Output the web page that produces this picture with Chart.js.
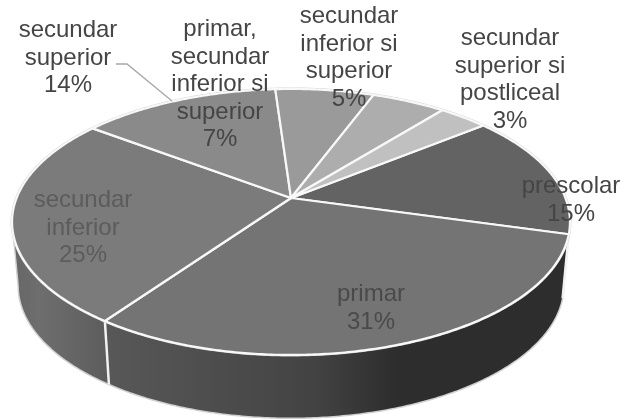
<!DOCTYPE html>
<html>
<head>
<meta charset="utf-8">
<style>
  html, body { margin: 0; padding: 0; background: #fff; }
  canvas { display: block; }
</style>
<script src="https://cdn.jsdelivr.net/npm/chart.js@4"></script>
</head>
<body>
<canvas id="pieChart" width="623" height="420"></canvas>
<script>
// Data (slice sizes estimated, labels show them rounded)
const categories = [
  ['prescolar'],
  ['primar'],
  ['secundar', 'inferior'],
  ['secundar', 'superior'],
  ['primar,', 'secundar', 'inferior si', 'superior'],
  ['secundar', 'inferior si', 'superior'],
  ['secundar', 'superior si', 'postliceal']
];
const shares = [15.1, 30.5, 25.4, 13.7, 6.8, 5.1, 3.4];

// Styles
const sliceColors = ['#636363', '#747474', '#7b7b7b', '#8a8a8a', '#9a9a9a', '#adadad', '#c0c0c0'];
const textColors = ['#454545', '#4a4a4a', '#5c5c5c', '#454545', '#454545', '#454545', '#454545'];
const wallStops = [
  [[0, '#2d2d2d'], [1, '#2d2d2d']],
  [[0, '#2d2d2d'], [0.37, '#2d2d2d'], [0.55, '#434343'], [1, '#585858']],
  [[0, '#5d5d5d'], [0.7, '#6e6e6e'], [1, '#666666']]
];
// centre x and first baseline of each label
const labelSpots = [[571, 193], [371, 301], [83, 207], [68, 37], [220, 36], [349, 23], [510, 45]];
const lineStep = 27.6;

// Tilted disc: unit circle seen in perspective
const disc = { x: 291, y: 198, a: 274.4, b: 128.7, k: 0.18 };
const rimCentre = { x: 290, y: 222 };
const floorCentre = { x: 290, y: 286 };

function topPoint(angle) {
  const w = 1 - disc.k * Math.sin(angle);
  return {
    x: disc.x + disc.a * Math.cos(angle) / w,
    y: disc.y + disc.b * Math.sin(angle) / w
  };
}

function floorPoint(angle) {
  const p = topPoint(angle);
  return {
    x: floorCentre.x + (p.x - rimCentre.x) * 0.978,
    y: floorCentre.y + (p.y - rimCentre.y) * 0.995
  };
}

function traceArc(ctx, pointFn, from, to) {
  const steps = Math.max(2, Math.ceil(Math.abs(to - from) / 0.01));
  for (let i = 0; i <= steps; i++) {
    const p = pointFn(from + (to - from) * i / steps);
    ctx.lineTo(p.x, p.y);
  }
}

const perspectivePie = {
  id: 'perspectivePie',
  beforeDatasetsDraw(chart) {
    const ctx = chart.ctx;
    const arcs = chart.getDatasetMeta(0).data;
    const wallFrom = Math.asin(disc.k);
    const wallTo = Math.PI - wallFrom;
    ctx.save();
    ctx.lineJoin = 'round';

    // side wall
    arcs.forEach((arc, i) => {
      const from = Math.max(arc.startAngle, wallFrom);
      const to = Math.min(arc.endAngle, wallTo);
      if (to <= from) return;
      const right = topPoint(from).x;
      const left = topPoint(to).x;
      const fill = ctx.createLinearGradient(right, 0, left, 0);
      (wallStops[i] || [[0, '#666'], [1, '#666']]).forEach(s => fill.addColorStop(s[0], s[1]));
      ctx.beginPath();
      traceArc(ctx, topPoint, from, to);
      traceArc(ctx, floorPoint, to, from);
      ctx.closePath();
      ctx.fillStyle = fill;
      ctx.fill();
    });

    // outer outline of the wall
    ctx.beginPath();
    traceArc(ctx, floorPoint, wallFrom, wallTo);
    ctx.strokeStyle = '#d0d0d0';
    ctx.lineWidth = 1.5;
    ctx.stroke();
    [wallFrom, wallTo].forEach(a => {
      const t = topPoint(a);
      const f = floorPoint(a);
      ctx.beginPath();
      ctx.moveTo(t.x, t.y);
      ctx.lineTo(f.x, f.y);
      ctx.stroke();
    });

    // wall seams where a slice border is on the visible side
    arcs.forEach(arc => {
      if (arc.endAngle > wallFrom && arc.endAngle < wallTo) {
        const t = topPoint(arc.endAngle);
        const f = floorPoint(arc.endAngle);
        ctx.beginPath();
        ctx.moveTo(t.x, t.y);
        ctx.lineTo(f.x, f.y);
        ctx.strokeStyle = '#f2f2f2';
        ctx.lineWidth = 2.5;
        ctx.stroke();
      }
    });

    // outer light line round the top face
    ctx.beginPath();
    traceArc(ctx, topPoint, 0, Math.PI * 2);
    ctx.closePath();
    ctx.strokeStyle = '#d4d4d4';
    ctx.lineWidth = 3;
    ctx.stroke();

    // top face
    arcs.forEach((arc, i) => {
      ctx.beginPath();
      ctx.moveTo(disc.x, disc.y);
      traceArc(ctx, topPoint, arc.startAngle, arc.endAngle);
      ctx.closePath();
      ctx.fillStyle = sliceColors[i];
      ctx.fill();
      ctx.strokeStyle = '#f8f8f8';
      ctx.lineWidth = 2.2;
      ctx.stroke();
    });
    ctx.restore();
    return false;
  },
  afterDraw(chart) {
    const ctx = chart.ctx;
    ctx.save();
    // leader line of "secundar superior"
    ctx.beginPath();
    ctx.moveTo(116, 64);
    ctx.lineTo(127, 64);
    ctx.lineTo(172, 101);
    ctx.strokeStyle = '#a6a6a6';
    ctx.lineWidth = 1.3;
    ctx.stroke();

    ctx.font = '24px "Liberation Sans", Arial, sans-serif';
    ctx.textAlign = 'center';
    ctx.textBaseline = 'alphabetic';
    categories.forEach((lines, i) => {
      const spot = labelSpots[i];
      const text = lines.concat(Math.round(shares[i]) + '%');
      ctx.fillStyle = textColors[i];
      text.forEach((line, n) => ctx.fillText(line, spot[0], spot[1] + n * lineStep));
    });
    ctx.restore();
  }
};

new Chart(document.getElementById('pieChart').getContext('2d'), {
  type: 'pie',
  data: {
    labels: categories,
    datasets: [{ data: shares, backgroundColor: sliceColors, borderWidth: 0 }]
  },
  options: {
    responsive: false,
    animation: false,
    rotation: 51.2,
    plugins: {
      legend: { display: false },
      tooltip: { enabled: false }
    }
  },
  plugins: [perspectivePie]
});
</script>
</body>
</html>
